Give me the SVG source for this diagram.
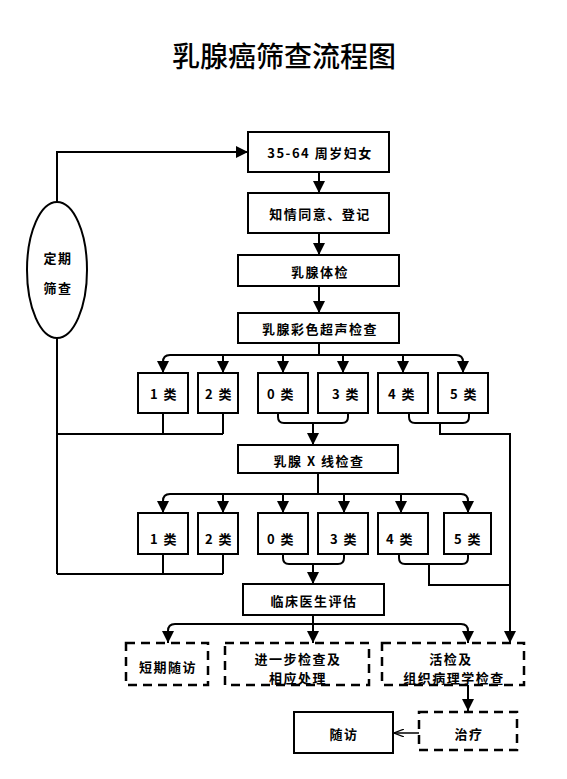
<svg xmlns="http://www.w3.org/2000/svg" width="567" height="779" viewBox="0 0 567 779">
<defs>
<marker id="arr" markerUnits="userSpaceOnUse" markerWidth="12" markerHeight="12" viewBox="0 0 10 10" refX="10" refY="5" orient="auto">
<path d="M0,0 L10,5 L0,10 z" fill="#000"/>
</marker>
<marker id="arrs" markerUnits="userSpaceOnUse" markerWidth="10" markerHeight="8" viewBox="0 0 10 8" refX="10" refY="4" orient="auto">
<path d="M0,0 L10,4 L0,8" fill="none" stroke="#000" stroke-width="1.2"/>
</marker>
<style>
.b{fill:#fff;stroke:#000;stroke-width:2}
.d{fill:#fff;stroke:#000;stroke-width:2.5;stroke-dasharray:9,6}
.t{font-family:"Noto Sans CJK SC","Liberation Sans",sans-serif;font-size:13px;font-weight:bold;text-anchor:middle;dominant-baseline:central;fill:#000;letter-spacing:1.5px}
.c{fill:none;stroke:#000;stroke-width:2}
.a{marker-end:url(#arr)}
</style>
</defs>
<rect width="567" height="779" fill="#fff"/>
<text x="284" y="55" style="font-family:'Noto Sans CJK SC',sans-serif;font-size:28px;font-weight:500;text-anchor:middle;dominant-baseline:central">乳腺癌筛查流程图</text>

<g id="connectors">
<path class="c a" d="M57,202 V152 H248"/>
<path class="c" d="M57,338 V574"/>
<path class="c a" d="M319,172 V193"/>
<path class="c a" d="M319,233 V255"/>
<path class="c a" d="M319,286 V313"/>
<path class="c" d="M319,343 V355"/>
<path class="c a" d="M170,355 Q163,355 163,362 V373"/>
<path class="c" d="M170,355 H456"/>
<path class="c a" d="M456,355 Q463,355 463,362 V373"/>
<path class="c a" d="M223,355 V373"/>
<path class="c a" d="M283,355 V373"/>
<path class="c a" d="M343,355 V373"/>
<path class="c a" d="M403,355 V373"/>
<path class="c" d="M163,413 V434 M223,413 V434 M57,434 H223"/>
<path class="c" d="M278,413 V417 Q278,423 284,423 H342 Q348,423 348,417 V413"/>
<path class="c a" d="M313,423 V445"/>
<path class="c" d="M409,413 V417 Q409,423 415,423 H463 Q469,423 469,417 V413"/>
<path class="c a" d="M440,423 V434 H510 V643"/>
<path class="c" d="M318,473 V494"/>
<path class="c a" d="M170,494 Q163,494 163,501 V513"/>
<path class="c" d="M170,494 H461"/>
<path class="c a" d="M461,494 Q468,494 468,501 V513"/>
<path class="c a" d="M223,494 V513"/>
<path class="c a" d="M283,494 V513"/>
<path class="c a" d="M344,494 V513"/>
<path class="c a" d="M401,494 V513"/>
<path class="c" d="M163,554 V574 M223,554 V574 M57,574 H223"/>
<path class="c" d="M283,554 V558 Q283,564 289,564 H338 Q344,564 344,558 V554"/>
<path class="c a" d="M313,564 V584"/>
<path class="c" d="M399,554 V558 Q399,564 405,564 H462 Q468,564 468,558 V554"/>
<path class="c" d="M429,564 V585 H510"/>
<path class="c" d="M313,615 V624"/>
<path class="c a" d="M175,624 Q168,624 168,631 V643"/>
<path class="c" d="M175,624 H461"/>
<path class="c a" d="M461,624 Q468,624 468,631 V643"/>
<path class="c a" d="M313,624 V643"/>
<path class="c a" d="M468,685 V711"/>
<path d="M419,733 H394" fill="none" stroke="#000" stroke-width="1.5" marker-end="url(#arrs)"/>
</g>

<g id="n-screen">
<ellipse class="b" cx="57" cy="270" rx="30" ry="68"/>
<text class="t" x="58" y="257">定期</text>
<text class="t" x="58" y="287">筛查</text>
</g>
<g id="n-women"><rect class="b" x="248" y="132" width="141" height="40"/><text class="t" x="320" y="152">35-64 周岁妇女</text></g>
<g id="n-consent"><rect class="b" x="248" y="193" width="141" height="40"/><text class="t" x="320" y="213">知情同意、登记</text></g>
<g id="n-exam"><rect class="b" x="238" y="255" width="161" height="31"/><text class="t" x="320" y="271">乳腺体检</text></g>
<g id="n-us"><rect class="b" x="238" y="313" width="161" height="30"/><text class="t" x="320" y="328">乳腺彩色超声检查</text></g>

<g id="n-us1"><rect class="b" x="138" y="373" width="50" height="40"/><text class="t" x="164" y="393">1 类</text></g>
<g id="n-us2"><rect class="b" x="198" y="373" width="40" height="40"/><text class="t" x="219" y="393">2 类</text></g>
<g id="n-us0"><rect class="b" x="258" y="373" width="50" height="40"/><text class="t" x="281" y="393">0 类</text></g>
<g id="n-us3"><rect class="b" x="318" y="373" width="50" height="40"/><text class="t" x="346" y="393">3 类</text></g>
<g id="n-us4"><rect class="b" x="378" y="373" width="50" height="40"/><text class="t" x="402" y="393">4 类</text></g>
<g id="n-us5"><rect class="b" x="438" y="373" width="50" height="40"/><text class="t" x="464" y="393">5 类</text></g>

<g id="n-xray"><rect class="b" x="238" y="445" width="160" height="28"/><text class="t" x="319" y="460">乳腺 X 线检查</text></g>

<g id="n-x1"><rect class="b" x="138" y="513" width="50" height="41"/><text class="t" x="164" y="538">1 类</text></g>
<g id="n-x2"><rect class="b" x="198" y="513" width="40" height="41"/><text class="t" x="219" y="538">2 类</text></g>
<g id="n-x0"><rect class="b" x="258" y="513" width="50" height="41"/><text class="t" x="281" y="538">0 类</text></g>
<g id="n-x3"><rect class="b" x="318" y="513" width="50" height="41"/><text class="t" x="344" y="538">3 类</text></g>
<g id="n-x4"><rect class="b" x="378" y="513" width="50" height="41"/><text class="t" x="400" y="538">4 类</text></g>
<g id="n-x5"><rect class="b" x="444" y="513" width="47" height="41"/><text class="t" x="468" y="538">5 类</text></g>

<g id="n-eval"><rect class="b" x="243" y="584" width="141" height="31"/><text class="t" x="314" y="600">临床医生评估</text></g>

<g id="n-short"><rect class="d" x="126" y="643" width="82" height="42"/><text class="t" x="168" y="666">短期随访</text></g>
<g id="n-further"><rect class="d" x="225" y="643" width="144" height="42"/><text class="t" x="298" y="658">进一步检查及</text><text class="t" x="298" y="677">相应处理</text></g>
<g id="n-biopsy"><rect class="d" x="382" y="643" width="142" height="42"/><text class="t" x="451" y="658">活检及</text><text class="t" x="454" y="677">组织病理学检查</text></g>
<g id="n-treat"><rect class="d" x="419" y="712" width="98" height="38"/><text class="t" x="469" y="733">治疗</text></g>
<g id="n-follow"><rect class="b" x="294" y="712" width="99" height="41"/><text class="t" x="344" y="733">随访</text></g>
</svg>
